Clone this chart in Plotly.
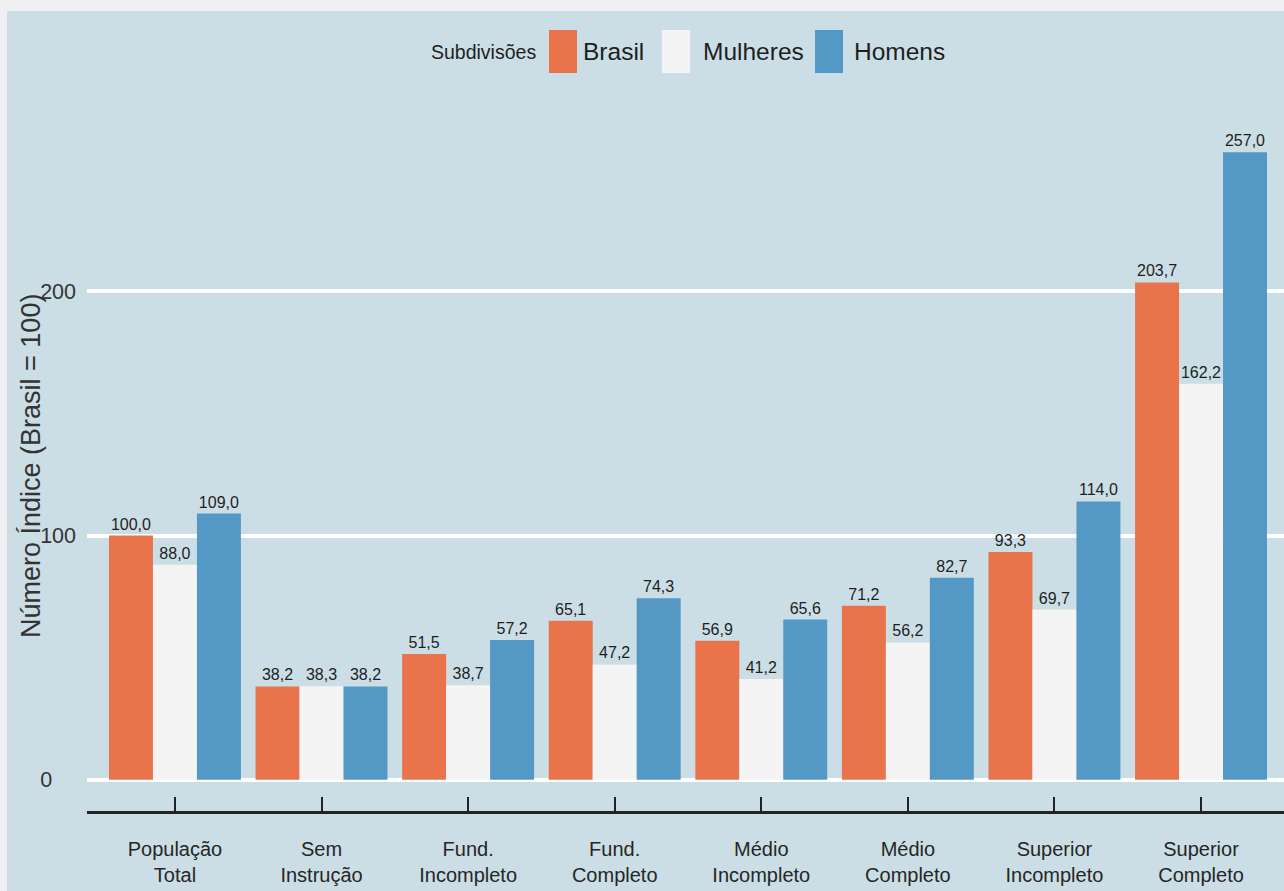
import plotly.graph_objects as go

# Categories (education level) and index values per subgroup (Brasil = 100)
categories = [
    "População<br>Total",
    "Sem<br>Instrução",
    "Fund.<br>Incompleto",
    "Fund.<br>Completo",
    "Médio<br>Incompleto",
    "Médio<br>Completo",
    "Superior<br>Incompleto",
    "Superior<br>Completo",
]
brasil = [100.0, 38.2, 51.5, 65.1, 56.9, 71.2, 93.3, 203.7]
mulheres = [88.0, 38.3, 38.7, 47.2, 41.2, 56.2, 69.7, 162.2]
homens = [109.0, 38.2, 57.2, 74.3, 65.6, 82.7, 114.0, 257.0]

series_names = ["Brasil", "Mulheres", "Homens"]
series_values = [brasil, mulheres, homens]
series_colors = ["#e9734b", "#f4f4f4", "#5499c6"]

y_ticks = [0, 100, 200]
y_title = "Número Índice (Brasil = 100)"

# Styling
PANEL = "#cbdee5"
OUTER = "#eef0f2"
FONT = "Liberation Sans, Arial, sans-serif"
W, H = 1284, 891
ML, MR, MT, MB = 87, 0, 121, 80
PW, PH = W - ML - MR, H - MT - MB


def px_x(px):
    return (px - ML) / PW


def px_y(py):
    return (H - MB - py) / PH


fig = go.Figure()
for name, vals, col in zip(series_names, series_values, series_colors):
    fig.add_trace(go.Bar(
        name=name,
        x=categories,
        y=vals,
        marker=dict(color=col, line=dict(width=0)),
        texttemplate="%{y:.1f}",
        textposition="outside",
        textfont=dict(family=FONT, size=16, color="#1e1e1e"),
        constraintext="none",
        cliponaxis=False,
        showlegend=False,
    ))

shapes = [
    # outer light frame (top and left strips)
    dict(type="rect", xref="paper", yref="paper", layer="below",
         x0=px_x(0), x1=px_x(W), y0=px_y(11), y1=px_y(0),
         fillcolor=OUTER, line=dict(width=0)),
    dict(type="rect", xref="paper", yref="paper", layer="below",
         x0=px_x(0), x1=px_x(7), y0=px_y(H), y1=px_y(0),
         fillcolor=OUTER, line=dict(width=0)),
]
annotations = []

# Legend drawn at the top: title, swatches and labels
legend_swatch_left = [549, 662, 815]
legend_text_left = [582, 702, 853]
sw_w, sw_top, sw_bot, leg_cy = 28, 30, 73, 52
annotations.append(dict(
    text="Subdivisões", xref="paper", yref="paper",
    x=px_x(538), y=px_y(leg_cy), xanchor="right", yanchor="middle",
    showarrow=False, font=dict(family=FONT, size=19.5, color="#1e1e1e")))
for name, col, sx, tx in zip(series_names, series_colors,
                             legend_swatch_left, legend_text_left):
    shapes.append(dict(type="rect", xref="paper", yref="paper",
                       x0=px_x(sx), x1=px_x(sx + sw_w),
                       y0=px_y(sw_bot), y1=px_y(sw_top),
                       fillcolor=col, line=dict(width=0)))
    annotations.append(dict(
        text=name, xref="paper", yref="paper",
        x=px_x(tx - 1), y=px_y(leg_cy), xanchor="left", yanchor="middle",
        showarrow=False, font=dict(family=FONT, size=24.5, color="#1e1e1e")))

# Y-axis title, placed tight against the tick labels
annotations.append(dict(
    text=y_title, xref="paper", yref="paper", textangle=-90,
    x=px_x(31), y=0.5, xanchor="center", yanchor="middle",
    showarrow=False, font=dict(family=FONT, size=27, color="#333333")))

y_ticktext = [("0" + "\u00a0" * 4) if v == 0 else str(v) for v in y_ticks]

fig.update_layout(
    width=W, height=H,
    margin=dict(l=ML, r=MR, t=MT, b=MB, pad=0),
    paper_bgcolor=PANEL,
    plot_bgcolor=PANEL,
    barmode="group",
    bargap=0.1,
    bargroupgap=0,
    separators=",.",
    shapes=shapes,
    annotations=annotations,
    showlegend=False,
    xaxis=dict(
        type="category",
        range=[-0.6, 7.566],
        showgrid=False,
        zeroline=False,
        showline=True,
        linecolor="#222222",
        linewidth=2.5,
        ticks="inside",
        ticklen=14,
        tickwidth=1.5,
        tickcolor="#222222",
        tickfont=dict(family=FONT, size=20, color="#262626"),
        ticklabelstandoff=18,
        automargin=False,
        fixedrange=True,
    ),
    yaxis=dict(
        range=[-12.85, 269.85],
        tickvals=y_ticks,
        ticktext=y_ticktext,
        showgrid=True,
        gridcolor="white",
        gridwidth=4,
        zeroline=False,
        showline=False,
        ticks="",
        tickfont=dict(family=FONT, size=21.5, color="#333333"),
        ticklabelstandoff=10,
        automargin=False,
        fixedrange=True,
    ),
)

fig.write_html("out.html")
